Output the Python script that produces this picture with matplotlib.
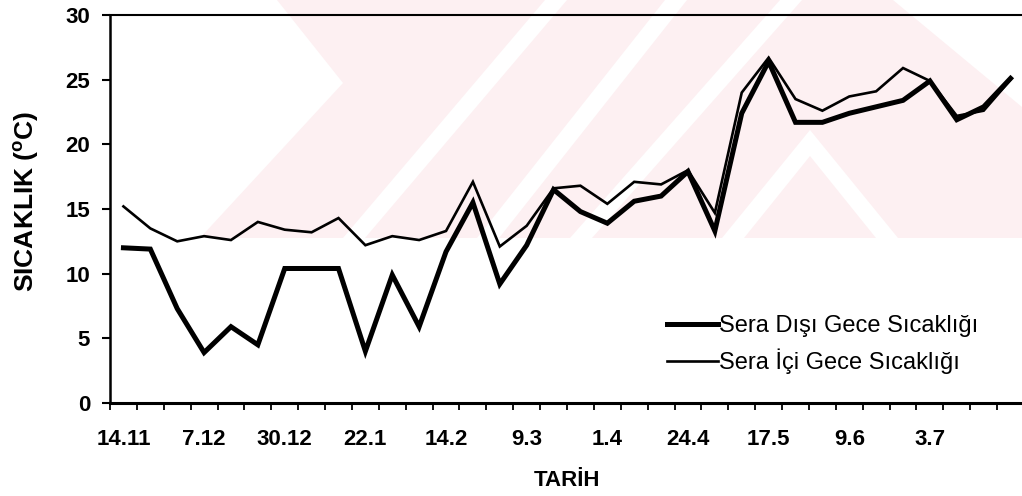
import matplotlib
matplotlib.use("Agg")
import matplotlib.pyplot as plt
from matplotlib.patches import Polygon
import numpy as np

# ---- data ----
tick_labels = ['14.11', '7.12', '30.12', '22.1', '14.2', '9.3', '1.4',
               '24.4', '17.5', '9.6', '3.7']
sera_disi = [12.0, 11.9, 7.3, 3.9, 5.9, 4.5, 10.4, 10.4, 10.4, 4.0, 9.9,
             5.9, 11.7, 15.5, 9.2, 12.2, 16.5, 14.8, 13.9, 15.6, 16.0, 17.9,
             13.3, 22.4, 26.4, 21.7, 21.7, 22.4, 22.9, 23.4, 24.9, 21.9,
             22.9, 25.1]
sera_ici = [15.2, 13.5, 12.5, 12.9, 12.6, 14.0, 13.4, 13.2, 14.3, 12.2, 12.9,
            12.6, 13.3, 17.1, 12.1, 13.7, 16.6, 16.8, 15.4, 17.1, 16.9, 18.0,
            14.7, 24.0, 26.7, 23.5, 22.6, 23.7, 24.1, 25.9, 24.9, 22.2,
            22.6, 25.0]
label_disi = 'Sera Dışı Gece Sıcaklığı'
label_ici = 'Sera İçi Gece Sıcaklığı'

plt.rcParams['font.family'] = ['Liberation Sans', 'DejaVu Sans']
plt.rcParams['mathtext.fontset'] = 'custom'
plt.rcParams['mathtext.rm'] = 'Liberation Sans:bold'
plt.rcParams['mathtext.bf'] = 'Liberation Sans:bold'

W, H = 1022, 496
fig = plt.figure(figsize=(W / 100, H / 100), dpi=100)


def px(pts):
    return [(a / W, 1 - b / H) for a, b in pts]


def add_poly(pts, color):
    fig.patches.append(Polygon(px(pts), closed=True, fc=color, ec='none',
                               transform=fig.transFigure, zorder=-5))


# faint background watermark (approximate)
pink = '#fdf0f2'
add_poly([(200, 238), (343, 83), (277, 0), (1022, 0), (1022, 238)], pink)
for (xb, xt) in [(343, 545), (477, 665), (570, 780)]:
    add_poly([(xb, 238), (xb + 22, 238), (xt + 22, 0), (xt, 0)], 'white')
add_poly([(722, 238), (810, 130), (898, 238), (876, 238), (810, 156),
          (744, 238)], 'white')
add_poly([(893, 0), (1022, 0), (1022, 107)], 'white')

L, R, T, B = 110, 1024, 15, 403
ax = fig.add_axes([L / W, 1 - B / H, (R - L) / W, (B - T) / H])
ax.set_facecolor('none')

x = np.arange(len(sera_disi))
ax.plot(x, sera_disi, color='black', lw=3.6, solid_joinstyle='miter',
        label=label_disi)
ax.plot(x, sera_ici, color='black', lw=1.9, solid_joinstyle='miter',
        label=label_ici)

ax.set_xlim(-0.5, len(x) - 0.5)
ax.set_ylim(0, 30)
ax.set_yticks(np.arange(0, 31, 5))
ax.set_xticks(np.arange(0, 3 * len(tick_labels), 3))
ax.set_xticklabels(tick_labels)
ax.set_xticks(np.arange(-0.5, len(x), 1), minor=True)

ax.tick_params(axis='x', which='major', length=0, pad=19, labelsize=16)
ax.tick_params(axis='x', which='minor', length=5, width=1.3, direction='out')
ax.tick_params(axis='y', which='major', length=5.8, width=1.5, pad=8.5,
               labelsize=16, direction='out')
for lab in ax.get_xticklabels() + ax.get_yticklabels():
    lab.set_fontweight('bold')

ax.spines['right'].set_visible(False)
ax.spines['left'].set_linewidth(1.8)
ax.spines['bottom'].set_linewidth(2.2)
ax.spines['top'].set_linewidth(1.5)

ax.set_ylabel(r'SICAKLIK ($^{\mathbf{o}}$C)', fontsize=19, fontweight='bold')
ax.yaxis.set_label_coords((26 - L) / (R - L), (B - 201) / (B - T))
ax.yaxis.label.set_va('center')
ax.set_xlabel('TARİH', fontsize=16, fontweight='bold')
ax.xaxis.set_label_coords((567 - L) / (R - L), -(480 - B) / (B - T))
ax.xaxis.label.set_va('center')

leg = ax.legend(loc='upper left', bbox_to_anchor=(667 / W, 1 - 315 / H),
                bbox_transform=fig.transFigure, frameon=False, fontsize=17,
                handlelength=2.15, handletextpad=0.05, borderpad=0,
                borderaxespad=0, labelspacing=0.5)

fig.savefig('out.png', dpi=100)
